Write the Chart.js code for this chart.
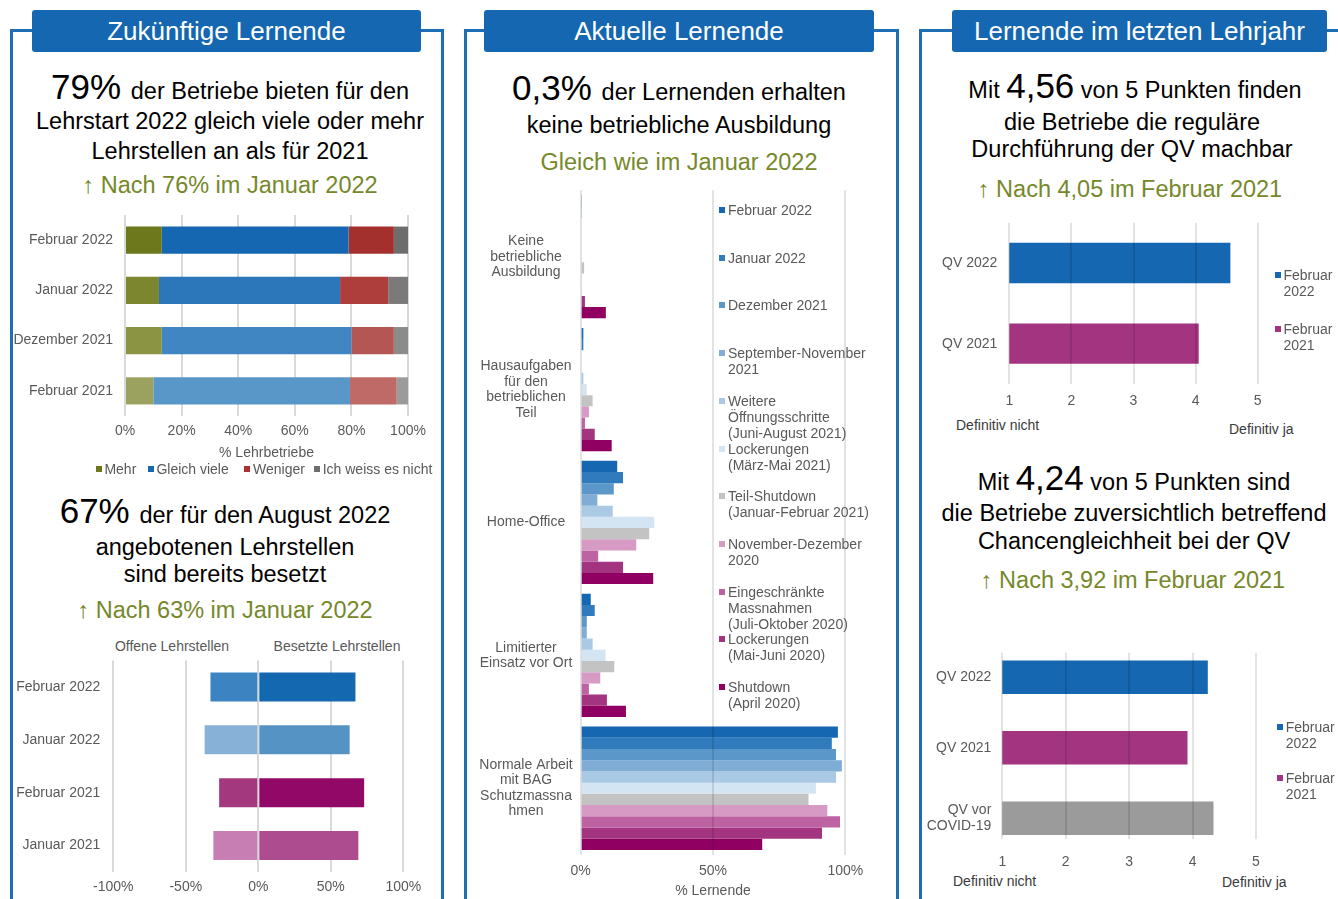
<!DOCTYPE html>
<html lang="de">
<head>
<meta charset="utf-8">
<title>Lehrstellen-Barometer</title>
<script src="https://cdn.jsdelivr.net/npm/chart.js@4.4.1/dist/chart.umd.min.js"></script>
<style>
  html, body { margin: 0; padding: 0; }
  body { width: 1338px; height: 899px; overflow: hidden; position: relative; background: #fff;
         font-family: "Liberation Sans", Arial, sans-serif; }
  .rahmen { position: absolute; top: 29px; height: 900px; border: 3px solid #1f6db5; border-bottom: none; }
  .kopf { position: absolute; top: 10px; height: 42px; line-height: 42px; background: #1467b0; color: #fff;
          font-size: 26px; text-align: center; border-radius: 3px; white-space: nowrap; }
  .ln { position: absolute; transform: translateX(-50%); white-space: nowrap; font-size: 23.5px;
        line-height: 30px; color: #000; }
  .ln.gross { line-height: 40px; }
  .ln .zahl { font-size: 35px; }
  .ln.oliv { color: #76882a; }
  .lab { position: absolute; font-size: 14px; line-height: 16px; color: #595959; white-space: nowrap; }
  .lab.dunkel { color: #3a3a3a; }
  .box { position: absolute; width: 6px; height: 6px; }
  canvas { position: absolute; }
</style>
</head>
<body>

<!-- Rahmen und Titel -->
<div class="rahmen" style="left:10px; width:428px;"></div>
<div class="rahmen" style="left:464px; width:429px;"></div>
<div class="rahmen" style="left:919px; width:430px;"></div>
<div class="kopf" style="left:32px; width:389px;">Zukünftige Lernende</div>
<div class="kopf" style="left:484px; width:390px;">Aktuelle Lernende</div>
<div class="kopf" style="left:952px; width:375px;">Lernende im letzten Lehrjahr</div>

<!-- Texte Spalte 1 -->
<div class="ln gross" style="left:230px; top:67px;"><span class="zahl">79% </span>der Betriebe bieten für den</div>
<div class="ln" style="left:230px; top:106px;">Lehrstart 2022 gleich viele oder mehr</div>
<div class="ln" style="left:230px; top:136px;">Lehrstellen an als für 2021</div>
<div class="ln oliv" style="left:230px; top:170px;">↑ Nach 76% im Januar 2022</div>

<div class="ln gross" style="left:225px; top:491px;"><span class="zahl">67% </span>der für den August 2022</div>
<div class="ln" style="left:225px; top:532px;">angebotenen Lehrstellen</div>
<div class="ln" style="left:225px; top:559px;">sind bereits besetzt</div>
<div class="ln oliv" style="left:225px; top:595px;">↑ Nach 63% im Januar 2022</div>

<!-- Texte Spalte 2 -->
<div class="ln gross" style="left:679px; top:68px;"><span class="zahl">0,3% </span>der Lernenden erhalten</div>
<div class="ln" style="left:679px; top:110px;">keine betriebliche Ausbildung</div>
<div class="ln oliv" style="left:679px; top:147px;">Gleich wie im Januar 2022</div>

<!-- Texte Spalte 3 -->
<div class="ln gross" style="left:1135px; top:66px;">Mit <span class="zahl">4,56</span> von 5 Punkten finden</div>
<div class="ln" style="left:1132px; top:107px;">die Betriebe die reguläre</div>
<div class="ln" style="left:1132px; top:134px;">Durchführung der QV machbar</div>
<div class="ln oliv" style="left:1130px; top:174px;">↑ Nach 4,05 im Februar 2021</div>

<div class="ln gross" style="left:1134px; top:458px;">Mit <span class="zahl">4,24</span> von 5 Punkten sind</div>
<div class="ln" style="left:1134px; top:498px;">die Betriebe zuversichtlich betreffend</div>
<div class="ln" style="left:1134px; top:526px;">Chancengleichheit bei der QV</div>
<div class="ln oliv" style="left:1133px; top:565px;">↑ Nach 3,92 im Februar 2021</div>

<!-- Achsenbeschriftungen -->
<div class="lab" style="left:172px; top:638px; transform:translateX(-50%);">Offene Lehrstellen</div>
<div class="lab" style="left:337px; top:638px; transform:translateX(-50%);">Besetzte Lehrstellen</div>
<div class="lab dunkel" style="left:956px; top:417px;">Definitiv nicht</div>
<div class="lab dunkel" style="left:1229px; top:421px;">Definitiv ja</div>
<div class="lab dunkel" style="left:953px; top:873px;">Definitiv nicht</div>
<div class="lab dunkel" style="left:1222px; top:874px;">Definitiv ja</div>

<canvas id="cZukunft" width="428" height="257" style="left:12px; top:205px;"></canvas>
<canvas id="cBesetzt" width="428" height="246" style="left:12px; top:650px;"></canvas>
<canvas id="cAktuell" width="420" height="720" style="left:467px; top:180px;"></canvas>
<canvas id="cMachbar" width="360" height="198" style="left:922px; top:212px;"></canvas>
<canvas id="cChancen" width="360" height="240" style="left:922px; top:640px;"></canvas>

<script>
// ---- Daten: Zukünftige Lernende (Lehrstellenangebot, % Lehrbetriebe) ----
const zkMonate = ['Februar 2022', 'Januar 2022', 'Dezember 2021', 'Februar 2021'];
const zkMehr = [13, 12, 13, 10];
const zkGleichViele = [66, 64, 67, 69.5];
const zkWeniger = [16, 17, 15, 16.5];
const zkWeissNicht = [5, 7, 5, 4];

// ---- Daten: Offene / besetzte Lehrstellen (%) ----
const lsMonate = ['Februar 2022', 'Januar 2022', 'Februar 2021', 'Januar 2021'];
const lsOffen = [-33, -37, -27, -31];
const lsBesetzt = [67, 63, 73, 69];

// ---- Daten: Aktuelle Lernende (% Lernende) ----
const alSituationen = [
    ['Keine', 'betriebliche', 'Ausbildung'],
    ['Hausaufgaben', 'für den', 'betrieblichen', 'Teil'],
    'Home-Office',
    ['Limitierter', 'Einsatz vor Ort'],
    ['Normale Arbeit', 'mit BAG', 'Schutzmassna', 'hmen']
];
const alPerioden = [
    ['Februar 2022'],
    ['Januar 2022'],
    ['Dezember 2021'],
    ['September-November', '2021'],
    ['Weitere', 'Öffnungsschritte', '(Juni-August 2021)'],
    ['Lockerungen', '(März-Mai 2021)'],
    ['Teil-Shutdown', '(Januar-Februar 2021)'],
    ['November-Dezember', '2020'],
    ['Eingeschränkte', 'Massnahmen', '(Juli-Oktober 2020)'],
    ['Lockerungen', '(Mai-Juni 2020)'],
    ['Shutdown', '(April 2020)']
];
const alFeb2022 = [0.3, 1, 13.8, 3.8, 97.2];
const alJan2022 = [0.3, 1, 16, 5.3, 94.9];
const alDez2021 = [0, 0, 12.5, 2.3, 96.5];
const alSepNov2021 = [0, 0, 6.3, 2.3, 98.7];
const alJunAug2021 = [0, 1, 12.1, 4.5, 96.5];
const alMaerzMai2021 = [0, 2.3, 27.8, 9.4, 88.9];
const alJanFeb2021 = [1.3, 4.5, 25.9, 12.7, 86.1];
const alNovDez2020 = [0.4, 3.1, 21, 7.4, 93.2];
const alJulOkt2020 = [0.4, 1.6, 6.6, 3.1, 98];
const alMaiJun2020 = [1.6, 5.3, 16, 9.9, 91.2];
const alApr2020 = [9.5, 11.7, 27.4, 17.1, 68.6];
const alWerte = [alFeb2022, alJan2022, alDez2021, alSepNov2021, alJunAug2021, alMaerzMai2021,
                 alJanFeb2021, alNovDez2020, alJulOkt2020, alMaiJun2020, alApr2020];

// ---- Daten: Lernende im letzten Lehrjahr (Punkte 1-5) ----
const qvMachbarJahre = ['QV 2022', 'QV 2021'];
const qvMachbar = [4.56, 4.05];
const qvChancenJahre = ['QV 2022', 'QV 2021', ['QV vor', 'COVID-19']];
const qvChancen = [4.24, 3.92, 4.33];
const qvLegende = [['Februar', '2022'], ['Februar', '2021']];

// ---- Farben ----
const fMehr = ['#6d781c', '#7c862f', '#8a9442', '#9ba260'];
const fGleich = ['#1467b0', '#2b77ba', '#3f86c2', '#5a97c9'];
const fWeniger = ['#a3302c', '#ad3e3b', '#b45653', '#c06a67'];
const fWeiss = ['#6d6d6d', '#7a7a7a', '#8b8b8b', '#9b9b9b'];
const fOffen = ['#3c84c1', '#87b1d6', '#a4387f', '#c77fb3'];
const fBesetzt = ['#1468b0', '#5593c5', '#920866', '#ad4c8e'];
const fPerioden = ['#1467b0', '#2f7bbb', '#5b97c9', '#7fadd5', '#a9c9e5', '#d3e4f2',
                   '#c3c3c3', '#d69ac4', '#bd62a2', '#a3347f', '#8f0062'];
const fQV = ['#1467b0', '#a3347f', '#9b9b9b'];

Chart.defaults.font.family = '"Liberation Sans", Arial, sans-serif';
Chart.defaults.font.size = 14;
Chart.defaults.color = '#595959';
Chart.defaults.animation = false;
Chart.defaults.plugins.legend.display = false;
Chart.defaults.plugins.tooltip.enabled = false;

function gitter(oben) {
    return { color: oben ? 'rgba(0,0,0,0.11)' : '#d9d9d9', lineWidth: 2, drawTicks: false, z: oben ? 1 : 0 };
}
const ohneGitter = { display: false, drawTicks: false };
const ohneRand = { display: false };
// feste Achsenmasse, damit die Plotfläche dort liegt wo sie soll
function breite(w) { return s => { s.width = w; s.paddingTop = 0; s.paddingBottom = 0; }; }
function hoehe(h) { return s => { s.height = h; s.paddingLeft = 0; s.paddingRight = 0; }; }
const prozent = v => v + '%';

// Zukünftige Lernende
new Chart(document.getElementById('cZukunft'), {
    type: 'bar',
    data: {
        labels: zkMonate,
        datasets: [
            { label: 'Mehr', data: zkMehr, backgroundColor: fMehr },
            { label: 'Gleich viele', data: zkGleichViele, backgroundColor: fGleich },
            { label: 'Weniger', data: zkWeniger, backgroundColor: fWeniger },
            { label: 'Ich weiss es nicht', data: zkWeissNicht, backgroundColor: fWeiss }
        ].map(d => Object.assign(d, { categoryPercentage: 1, barPercentage: 0.54 }))
    },
    options: {
        indexAxis: 'y',
        responsive: false,
        layout: { padding: { top: 10, right: 32, bottom: 0, left: 0 } },
        scales: {
            x: {
                stacked: true, min: 0, max: 100,
                grid: gitter(false), border: ohneRand,
                ticks: { stepSize: 20, padding: 7, callback: prozent },
                title: { display: true, text: '% Lehrbetriebe', padding: 0, color: '#595959' },
                afterFit: hoehe(46)
            },
            y: {
                stacked: true, grid: ohneGitter, border: ohneRand,
                ticks: { padding: 12 },
                afterFit: breite(113)
            }
        }
    }
});

// Offene / besetzte Lehrstellen
new Chart(document.getElementById('cBesetzt'), {
    type: 'bar',
    data: {
        labels: lsMonate,
        datasets: [
            { label: 'Offene Lehrstellen', data: lsOffen, backgroundColor: fOffen },
            { label: 'Besetzte Lehrstellen', data: lsBesetzt, backgroundColor: fBesetzt }
        ].map(d => Object.assign(d, { categoryPercentage: 1, barPercentage: 0.55 }))
    },
    options: {
        indexAxis: 'y',
        responsive: false,
        layout: { padding: { top: 10.5, right: 36.7, bottom: 0, left: 0 } },
        scales: {
            x: {
                stacked: true, min: -100, max: 100,
                grid: gitter(false), border: ohneRand,
                ticks: { stepSize: 50, padding: 7, callback: prozent },
                afterFit: hoehe(24)
            },
            y: {
                stacked: true, grid: ohneGitter, border: ohneRand,
                ticks: { padding: 13 },
                afterFit: breite(101.3)
            }
        }
    }
});

// Aktuelle Lernende
new Chart(document.getElementById('cAktuell'), {
    type: 'bar',
    data: {
        labels: alSituationen,
        datasets: alWerte.map((werte, i) => ({
            label: alPerioden[i].join(' '),
            data: werte,
            backgroundColor: fPerioden[i],
            categoryPercentage: 0.928,
            barPercentage: 1
        }))
    },
    options: {
        indexAxis: 'y',
        responsive: false,
        layout: { padding: { top: 10.2, right: 41.7, bottom: 0, left: 0 } },
        scales: {
            x: {
                min: 0, max: 100,
                grid: gitter(true), border: ohneRand,
                ticks: { stepSize: 50, padding: 8, callback: prozent },
                title: { display: true, text: '% Lernende', padding: 0, color: '#595959' },
                afterFit: hoehe(45.3)
            },
            y: {
                grid: ohneGitter, border: ohneRand,
                ticks: { padding: 8, crossAlign: 'center', font: { size: 14, lineHeight: 1.1 } },
                afterFit: breite(113.7)
            }
        }
    }
});

// QV machbar
new Chart(document.getElementById('cMachbar'), {
    type: 'bar',
    data: {
        labels: qvMachbarJahre,
        datasets: [{ label: 'Punkte', data: qvMachbar, backgroundColor: fQV.slice(0, 2),
                     categoryPercentage: 1, barPercentage: 0.5 }]
    },
    options: {
        indexAxis: 'y',
        responsive: false,
        layout: { padding: { top: 10.7, right: 24.3, bottom: 0, left: 0 } },
        scales: {
            x: {
                min: 1, max: 5,
                grid: gitter(true), border: ohneRand,
                ticks: { stepSize: 1, padding: 8.6 },
                afterFit: hoehe(26)
            },
            y: {
                grid: ohneGitter, border: ohneRand,
                ticks: { padding: 12 },
                afterFit: breite(87.3)
            }
        }
    }
});

// QV Chancengleichheit (lineare Indexachse, damit die Ränder knapp bleiben)
new Chart(document.getElementById('cChancen'), {
    type: 'bar',
    data: {
        datasets: [{ label: 'Punkte', data: qvChancen.map((v, i) => ({ x: v, y: i })),
                     backgroundColor: fQV, categoryPercentage: 1, barPercentage: 0.476 }]
    },
    options: {
        indexAxis: 'y',
        responsive: false,
        layout: { padding: { top: 12.7, right: 26, bottom: 0, left: 0 } },
        scales: {
            x: {
                type: 'linear', min: 1, max: 5,
                grid: gitter(true), border: ohneRand,
                ticks: { stepSize: 1, padding: 14 },
                afterFit: hoehe(40.7)
            },
            y: {
                type: 'linear', min: -0.35, max: 2.3, reverse: true, offset: false,
                grid: ohneGitter, border: ohneRand,
                afterBuildTicks: s => { s.ticks = qvChancenJahre.map((_, i) => ({ value: i })); },
                ticks: { padding: 11, font: { size: 14, lineHeight: 1.15 }, callback: v => qvChancenJahre[v] },
                afterFit: breite(80.3)
            }
        }
    }
});

// ---- Legenden ----
function legende(x, yErste, abstand, eintraege, farben) {
    eintraege.forEach((zeilen, i) => {
        const y = yErste + i * abstand;
        const q = document.createElement('div');
        q.className = 'box';
        q.style.left = x + 'px';
        q.style.top = (y - 3) + 'px';
        q.style.background = farben[i];
        document.body.appendChild(q);
        const t = document.createElement('div');
        t.className = 'lab';
        t.style.left = (x + 9) + 'px';
        t.style.top = (y - 8) + 'px';
        t.innerHTML = zeilen.join('<br>');
        document.body.appendChild(t);
    });
}
legende(719, 210, 47.7, alPerioden, fPerioden);
legende(1274.5, 275, 54, qvLegende, fQV);
legende(1276.7, 727.3, 51, qvLegende, fQV);

// Legende Zukünftige Lernende (eine Zeile)
const zkSerien = ['Mehr', 'Gleich viele', 'Weniger', 'Ich weiss es nicht'];
const zkLegFarben = [fMehr[0], fGleich[0], '#a9332f', fWeiss[0]];
const zkLegX = [95.7, 147.7, 244.3, 314];
zkSerien.forEach((name, i) => {
    const q = document.createElement('div');
    q.className = 'box';
    q.style.left = zkLegX[i] + 'px';
    q.style.top = '465.5px';
    q.style.background = zkLegFarben[i];
    document.body.appendChild(q);
    const t = document.createElement('div');
    t.className = 'lab';
    t.style.left = (zkLegX[i] + 8.7) + 'px';
    t.style.top = '460.5px';
    t.textContent = name;
    document.body.appendChild(t);
});
</script>
</body>
</html>
